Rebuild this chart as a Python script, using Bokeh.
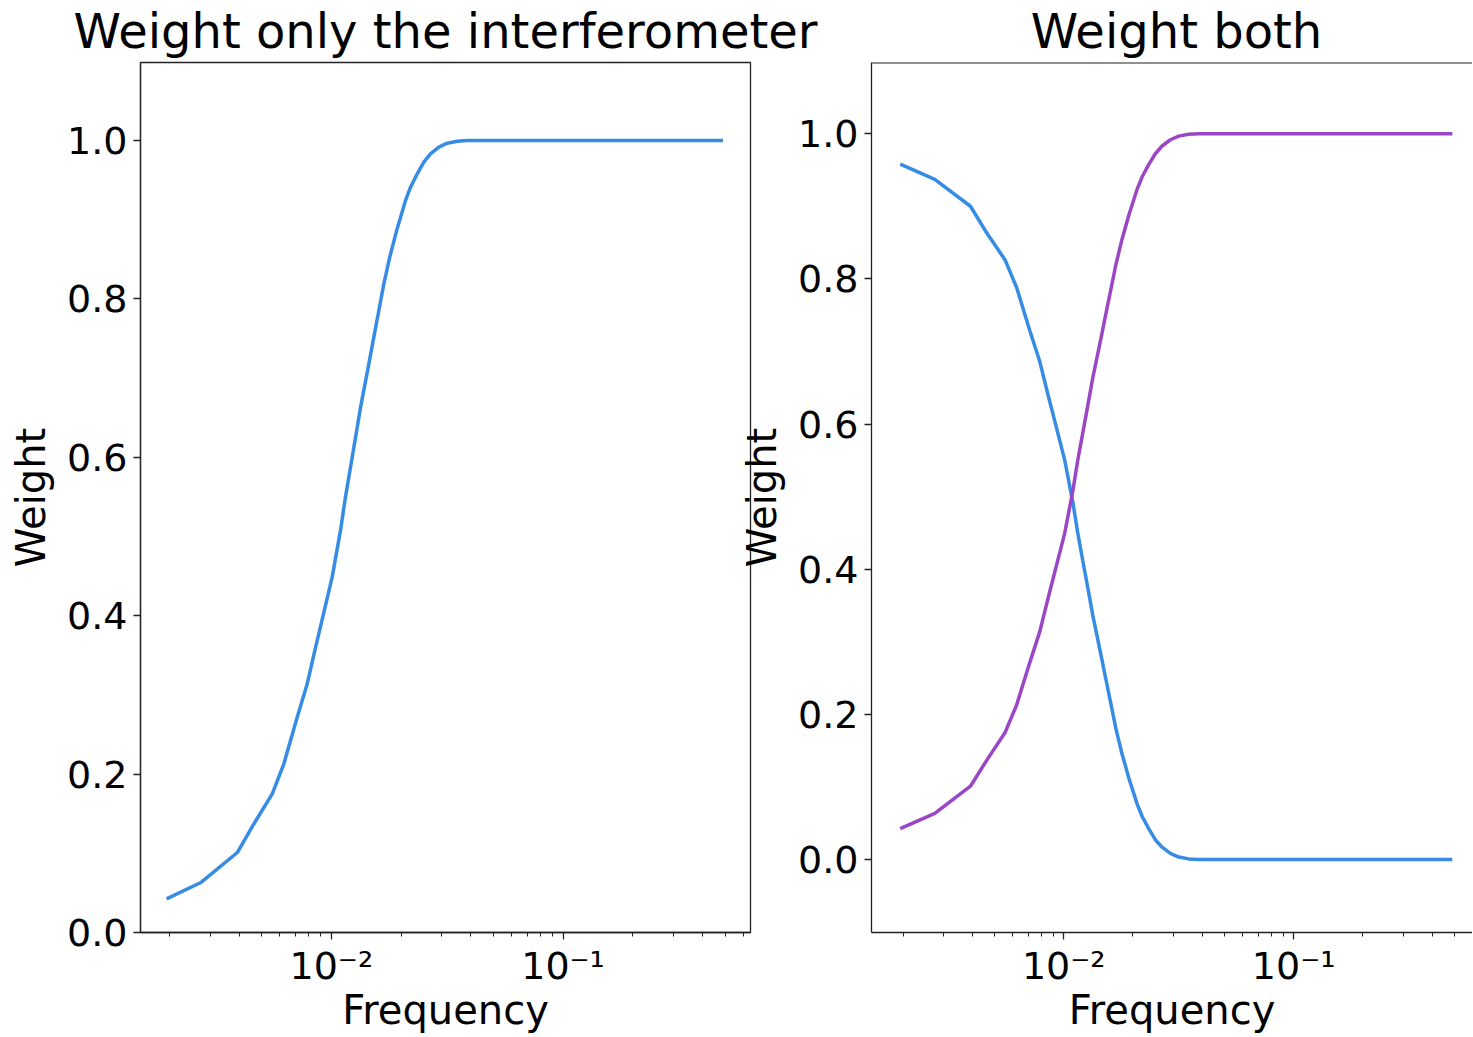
from bokeh.plotting import figure
from bokeh.layouts import row, column
from bokeh.models import Range1d, FixedTicker, Label, Span
from bokeh.embed import file_html
from bokeh.resources import INLINE

# ---- data ----
freq = [0.001945, 0.00275, 0.00393, 0.00463, 0.00556, 0.00624,
        0.00713, 0.00787, 0.00855, 0.00928, 0.01009, 0.01096, 0.01151,
        0.0121, 0.01272, 0.01337, 0.01452, 0.01526, 0.01603,
        0.01685, 0.01788, 0.01925, 0.02089, 0.02197, 0.02349, 0.02507,
        0.02679, 0.02911, 0.03163, 0.03495, 0.0386, 0.05, 0.1, 0.2, 0.3,
        0.4, 0.49]
# weight of the interferometer (left panel, purple curve on the right)
w_interf = [0.0425, 0.0635, 0.101, 0.137, 0.175, 0.213,
            0.272, 0.314, 0.360, 0.404, 0.449, 0.508, 0.550,
            0.5875, 0.625, 0.663, 0.718, 0.752, 0.785,
            0.819, 0.853, 0.889, 0.924, 0.941, 0.958, 0.9726,
            0.983, 0.9916, 0.9966, 0.9991, 1.0, 1.0, 1.0, 1.0, 1.0,
            1.0, 1.0]
# weight of the single dish (blue curve on the right)
w_single = [0.958, 0.937, 0.900, 0.863, 0.826, 0.788,
            0.728, 0.686, 0.640, 0.596, 0.551, 0.492, 0.450,
            0.412, 0.375, 0.337, 0.282, 0.248, 0.215,
            0.181, 0.147, 0.111, 0.076, 0.059, 0.042, 0.027,
            0.017, 0.0084, 0.0034, 0.0009, 0.0, 0.0, 0.0, 0.0, 0.0,
            0.0, 0.0]

x_major = [0.01, 0.1]
x_major_labels = ["10\u207b\u00b2", "10\u207b\u00b9"]
x_minor = [0.002, 0.003, 0.004, 0.005, 0.006, 0.007, 0.008, 0.009,
           0.02, 0.03, 0.04, 0.05, 0.06, 0.07, 0.08, 0.09,
           0.2, 0.3, 0.4, 0.5, 0.6]
y_ticks = [0.0, 0.2, 0.4, 0.6, 0.8, 1.0]
y_labels = ["0.0", "0.2", "0.4", "0.6", "0.8", "1.0"]

titles = ["Weight only the interferometer", "Weight both"]
BLUE = "#368ce4"
PURPLE = "#9b46c6"
FONT = "DejaVu Sans"
DARK = "#222222"

# ---- title band (titles are wider than the panels) ----
tf = figure(width=1472, height=61, x_range=Range1d(0, 1472), y_range=Range1d(0, 61),
            output_backend="svg", toolbar_location=None, min_border=0,
            x_axis_location=None, y_axis_location=None)
tf.grid.visible = False
tf.outline_line_color = None
for t, xc in zip(titles, [445, 1176]):
    tf.add_layout(Label(x=xc, y=31, text=t, text_font=FONT, text_font_size="48px",
                        text_align="center", text_baseline="middle",
                        text_color="black"))


def make_fig(width, left_border, right_border, xr, yr):
    p = figure(width=width, height=975, x_axis_type="log",
               x_range=Range1d(*xr), y_range=Range1d(*yr),
               output_backend="svg", toolbar_location=None,
               min_border_left=left_border, min_border_right=right_border,
               min_border_top=1, min_border_bottom=104)
    p.grid.visible = False
    p.outline_line_color = DARK
    p.outline_line_width = 1.3
    p.background_fill_color = "white"

    xa = p.xaxis[0]
    xa.ticker = FixedTicker(ticks=x_major, minor_ticks=x_minor)
    xa.major_label_overrides = {v: s for v, s in zip(x_major, x_major_labels)}
    xa.axis_label = "Frequency"
    ya = p.yaxis[0]
    ya.ticker = FixedTicker(ticks=y_ticks)
    ya.major_label_overrides = {v: s for v, s in zip(y_ticks, y_labels)}
    ya.axis_label = "Weight"
    for ax in (xa, ya):
        ax.axis_label_text_font = FONT
        ax.axis_label_text_font_size = "40px"
        ax.axis_label_text_font_style = "normal"
        ax.axis_label_text_color = "black"
        ax.major_label_text_font = FONT
        ax.major_label_text_font_size = "38px"
        ax.major_label_text_color = "black"
        ax.axis_line_color = DARK
        ax.axis_line_width = 1.3
        ax.major_tick_line_color = DARK
        ax.minor_tick_line_color = DARK
        ax.major_tick_line_width = 1.3
        ax.minor_tick_line_width = 1.0
        ax.major_tick_in = 0
        ax.major_tick_out = 7
        ax.minor_tick_in = 0
        ax.minor_tick_out = 4
        ax.major_label_standoff = 6
    xa.major_label_standoff = 4
    xa.axis_label_standoff = -4
    ya.axis_label_standoff = 10
    ya.major_label_orientation = "horizontal"
    return p


p1 = make_fig(752, 140, 2, (10 ** -2.8235, 10 ** -0.191), (0.0, 1.0985))
p1.line(freq, w_interf, line_color=BLUE, line_width=3.5)

p2 = make_fig(736, 135, 0, (10 ** -2.836, 10 ** -0.222), (-0.1005, 1.098))
p2.margin = (0, 0, 0, -16)
p2.border_fill_color = None
p2.outline_line_color = None
p2.add_layout(Span(location=1.098, dimension="width", line_color=DARK, line_width=2))
p2.line(freq, w_single, line_color=BLUE, line_width=3.5)
p2.line(freq, w_interf, line_color=PURPLE, line_width=3.5)

layout = column(tf, row(p1, p2))
open("out.html", "w").write(file_html(layout, INLINE))
